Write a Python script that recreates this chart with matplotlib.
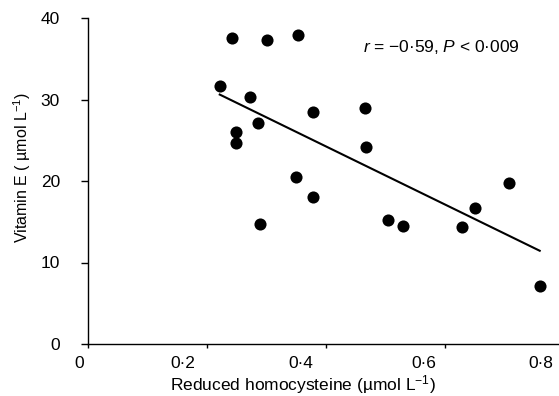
import numpy as np
import matplotlib
matplotlib.use("Agg")
import matplotlib.pyplot as plt
from matplotlib.transforms import ScaledTranslation

plt.rcParams['font.family'] = ['Liberation Sans', 'DejaVu Sans']
plt.rcParams['mathtext.fontset'] = 'custom'
plt.rcParams['mathtext.rm'] = 'Liberation Sans'
plt.rcParams['mathtext.it'] = 'Liberation Sans:italic'

# Data
homocysteine = [0.221, 0.242, 0.248, 0.248, 0.272, 0.285, 0.288, 0.300, 0.349, 0.352,
                0.377, 0.378, 0.466, 0.467, 0.504, 0.529, 0.628, 0.651, 0.708, 0.759]
vitamin_e = [31.7, 37.5, 26.0, 24.7, 30.3, 27.1, 14.7, 37.3, 20.5, 37.9,
             28.5, 18.0, 28.9, 24.2, 15.2, 14.5, 14.3, 16.7, 19.8, 7.1]
x_ticks = [0, 0.2, 0.4, 0.6, 0.8]
x_tick_labels = ['0', '0·2', '0·4', '0·6', '0·8']
y_ticks = [0, 10, 20, 30, 40]
annotation = '$r$ = −0·59, $P$ < 0·009'

fig = plt.figure(figsize=(5.59, 3.96), dpi=100)
ax = fig.add_axes([88.3 / 559, 52 / 396, 475.8 / 559, 326 / 396])

x = np.array(homocysteine)
y = np.array(vitamin_e)
ax.scatter(x, y, s=76, color='black', zorder=3, linewidths=0)
slope, intercept = np.polyfit(x, y, 1)
xl = np.array([x.min(), x.max()])
ax.plot(xl, slope * xl + intercept, color='black', lw=1.5, zorder=2)

ax.set_xlim(0, 0.8)
ax.set_ylim(0, 40)
ax.spines['top'].set_visible(False)
ax.spines['right'].set_visible(False)
for s in ('left', 'bottom'):
    ax.spines[s].set_linewidth(1.0)
    ax.spines[s].set_clip_on(False)

ax.set_yticks(y_ticks)
ax.tick_params(axis='y', direction='out', length=4.8, width=1.0, pad=15.5, labelsize=12.5)
ax.set_xticks(x_ticks)
ax.tick_params(axis='x', direction='out', length=3.2, width=1.0, labelbottom=False)

# x tick labels (shifted left as in the reference)
offsets = [-9, -24, -25, -21, -23]
for v, lab, dx in zip(x_ticks, x_tick_labels, offsets):
    tr = ax.get_xaxis_transform() + ScaledTranslation(dx / 100, -19 / 100, fig.dpi_scale_trans)
    ax.text(v, 0, lab, transform=tr, ha='center', va='center', fontsize=12.5, clip_on=False)

ax.set_xlabel('Reduced homocysteine (µmol L$^{−1}$)', fontsize=12.5, va='baseline')
ax.xaxis.set_label_coords(0.451, -0.141)
ax.set_ylabel('Vitamin E ( µmol L$^{−1}$)', fontsize=11.5, va='center')
ax.yaxis.set_label_coords(-0.140, 0.540)

ax.text(0.577, 0.911, annotation, transform=ax.transAxes, ha='left', va='center', fontsize=12.5)

fig.savefig('out.png', dpi=100)
